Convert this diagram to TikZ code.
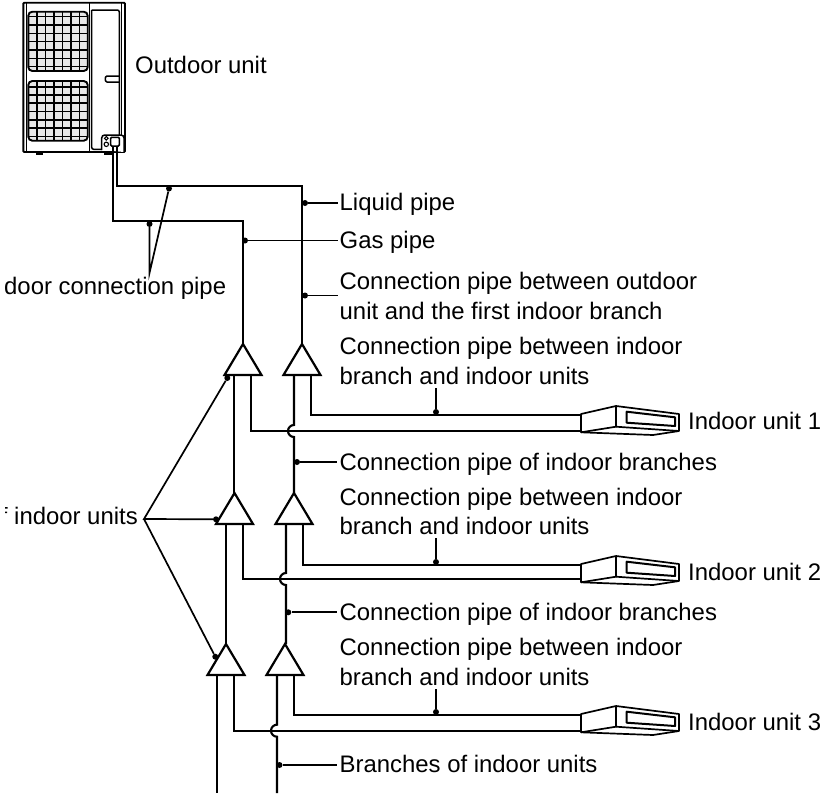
\documentclass[tikz,border=0pt]{standalone}
\usepackage{fontspec}
\setmainfont{Liberation Sans}
\tikzset{
 pipe/.style={line width=2.1pt,line join=miter},
 lead/.style={line width=1.7pt},
 lbl/.style={inner sep=0pt,anchor=base west,align=left,font=\fontsize{23.9}{29.5}\selectfont},
 tri/.style={line width=2.2pt,fill=white,line join=miter},
 dot/.style={circle,fill=black,inner sep=0pt,minimum size=6pt}
}
\newcommand{\trinode}[3]{\draw[tri] (#2,#3) -- ++(-18.5,31) -- ++(37,0) -- cycle; \coordinate (#1) at (#2,#3);}
\newcommand{\indoor}[2]{%
 \begin{scope}[shift={(#1,#2)},line width=1.7pt,line join=round]
 \draw[fill=white] (0,0) -- (35,-8) -- (98,0) -- (98,17) -- (72,21) -- (0,18.3) -- cycle;
 \draw (35,-8) -- (35,12.7) -- (0,18.3);
 \draw (35,12.7) -- (98,17);
 \draw[line width=2pt] (45.7,-2.3) -- (94,3.3) -- (94,12) -- (45.7,8.7) -- cycle;
 \end{scope}}
\begin{document}
\begin{tikzpicture}[x=1pt,y=-1pt]
\useasboundingbox (0,0) rectangle (825,798);
% outdoor unit
\begin{scope}[line width=1.5pt]
\draw[line width=1.9pt,rounded corners=1pt] (23.3,2.7) rectangle (125,152);
\draw[line width=1pt] (26.7,3) -- (26.7,152) (89,3) -- (89,152) (121.7,3) -- (121.7,135);
\draw[rounded corners=2pt] (91.7,10) -- (119.3,10) -- (119.3,135) (102,149.3) -- (91.7,149.3) -- (91.7,10);
\draw[rounded corners=1pt] (119.3,76) -- (106,76) -- (105,79) -- (106,82) -- (119.3,82);
\draw[line width=1.9pt,rounded corners=4pt,fill=black!9] (28.3,11.7) rectangle (87.7,71);
\draw[line width=1.9pt,rounded corners=4pt,fill=black!9] (28.3,81) rectangle (87.7,140.7);
\foreach \x in {37,45.7,54,62.3,71,79.3}{\draw[line width=1.1pt] (\x,12)--(\x,70.5) (\x,81.5)--(\x,140);}
\foreach \y in {16.7,25,33.3,41.7,50,58.3,66.7}{\draw[line width=1.1pt] (29,\y)--(87,\y);}
\foreach \y in {87,95,103,111.7,120,128,136.7}{\draw[line width=1.1pt] (29,\y)--(87,\y);}
\draw[rounded corners=3pt,fill=white] (101.7,150) -- (101.7,135) -- (124,135) -- (124,152);
\draw[line width=1.1pt] (106.3,138.3) circle (1.8) (106.3,144.3) circle (2.2);
\draw[fill=white,rounded corners=1pt] (110.7,137.3) rectangle (119.3,146);
\draw[line width=2.4pt] (36,153.7) -- (42.7,153.7) (104,153.7) -- (111.7,153.7);
\end{scope}
% labels
\node[lbl] (outd) at (135,73) {Outdoor unit};
\node[lbl] (liq) at (339.5,210) {Liquid pipe};
\node[lbl] (gas) at (339.5,248) {Gas pipe};
\node[lbl] (cp1) at (339.5,319) {Connection pipe between outdoor\\unit and the first indoor branch};
\node[lbl] (cp2) at (339.5,384) {Connection pipe between indoor\\branch and indoor units};
\node[lbl] (cb1) at (339.5,470.5) {Connection pipe of indoor branches};
\node[lbl] (cp3) at (339.5,534.5) {Connection pipe between indoor\\branch and indoor units};
\node[lbl] (cb2) at (339.5,620.5) {Connection pipe of indoor branches};
\node[lbl] (cp4) at (339.5,685) {Connection pipe between indoor\\branch and indoor units};
\node[lbl] (brn) at (339.5,772.5) {Branches of indoor units};
\node[lbl] (in1) at (688,429) {Indoor unit 1};
\node[lbl] (in2) at (688,580) {Indoor unit 2};
\node[lbl] (in3) at (688,730) {Indoor unit 3};
\node[lbl] (idc) at (4,294) {door connection pipe};
\node[lbl] (bin) at (14,524.5) {indoor units};
\fill (5,507) rectangle (7.5,508.6) (5,511.5) rectangle (7,513);
% main pipes
\draw[pipe] (113,146) -- (113,220.7) -- (243,220.7) -- (243,344);
\draw[pipe] (117,146) -- (117,186) -- (302,186) -- (302,344);
\draw[pipe] (234,375) -- (234,493);
\draw[pipe] (226,524) -- (226,644);
\draw[pipe] (217,675) -- (217,793);
\foreach \xa/\xb/\xc/\ya/\yb/\yt/\yn in {251/294/311/431/415/375/493,243/286/303/579/565/524/644,234/277/294/730.7/715/675/793}{
 \draw[pipe] (\xa,\yt) -- (\xa,\ya) -- (581,\ya);
 \draw[pipe] (\xc,\yt) -- (\xc,\yb) -- (581,\yb);
 \draw[pipe] (\xb,\yt) -- (\xb,\ya-6) arc (270:90:6) -- (\xb,\yn);
}
% triangles
\trinode{t1}{243}{344}\trinode{t2}{302}{344}
\trinode{t3}{234.5}{493}\trinode{t4}{294}{493}
\trinode{t5}{226}{644}\trinode{t6}{285}{644}
% leaders
\coordinate (jc) at (149.5,273);
\node[dot] (d1) at (169,188.5) {};
\node[dot] (d2) at (149.5,224) {};
\draw[lead] (d1) -- (jc) -- (d2);
\coordinate (ju) at (144,519);
\node[dot] (u1) at (227.3,378) {};
\node[dot] (u2) at (216,519.3) {};
\node[dot] (u3) at (215.3,656.7) {};
\draw[lead] (u1) -- (ju) -- (u2) (ju) -- (u3);
\node[dot] (l1) at (305,203) {};
\draw[lead] (l1) -- (338,203);
\node[dot] (l2) at (245,240.5) {};
\draw[lead] (l2) -- (338,240.5);
\node[dot] (l3) at (305,295.5) {};
\draw[lead] (l3) -- (338,295.5);
\node[dot] (l4) at (297,462) {};
\draw[lead] (l4) -- (337,462);
\node[dot] (l5) at (288.3,612.3) {};
\draw[lead] (l5) -- (337,612.3);
\node[dot] (l6) at (279.5,765) {};
\draw[lead] (l6) -- (337,765);
\coordinate (e1) at (436,388);
\coordinate (e2) at (436,538);
\coordinate (e3) at (436,688.5);
\node[dot] (m1) at (436,412) {};
\draw[lead] (m1) -- (e1);
\node[dot] (m2) at (436,562) {};
\draw[lead] (m2) -- (e2);
\node[dot] (m3) at (436,712) {};
\draw[lead] (m3) -- (e3);
% indoor units
\indoor{581}{414}\indoor{581}{564}\indoor{581}{714}
\end{tikzpicture}
\end{document}
